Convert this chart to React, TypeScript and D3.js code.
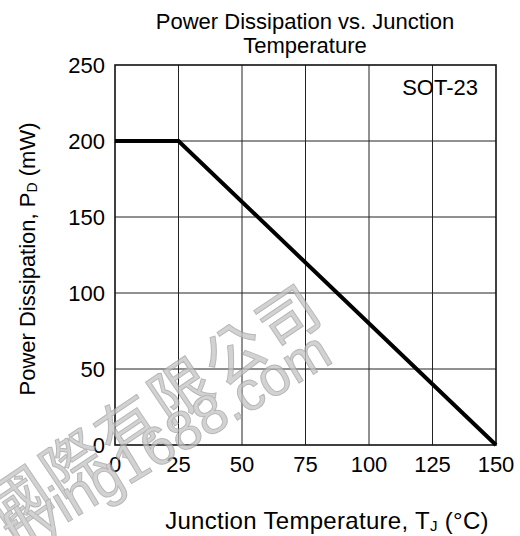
import React from "react";
import * as d3 from "d3";

const tempPoints = [0, 25, 150];
const powerPoints = [200, 200, 0];
const xTicks = [0, 25, 50, 75, 100, 125, 150];
const yTicks = [0, 50, 100, 150, 200, 250];

const W = 520, H = 536;
const m = { left: 115, right: 496, top: 65, bottom: 445 };

export default function App() {
  const x = d3.scaleLinear().domain([0, 150]).range([m.left, m.right]);
  const y = d3.scaleLinear().domain([0, 250]).range([m.bottom, m.top]);
  const line = d3.line<number>().x((_, i) => x(tempPoints[i])).y((d) => y(d));
  const font = "'Liberation Sans', Arial, sans-serif";
  return (
    <svg width={W} height={H} style={{ position: "absolute", left: 0, top: 0 }} fontFamily={font}>
      <rect width={W} height={H} fill="#fff" />
      {xTicks.slice(1, -1).map((t) => (
        <line key={"gx" + t} x1={x(t)} x2={x(t)} y1={m.top} y2={m.bottom} stroke="#222" strokeWidth={1} />
      ))}
      {yTicks.slice(1, -1).map((t) => (
        <line key={"gy" + t} x1={m.left} x2={m.right} y1={y(t)} y2={y(t)} stroke="#222" strokeWidth={1} />
      ))}
      <rect x={m.left} y={m.top} width={m.right - m.left} height={m.bottom - m.top} fill="none" stroke="#111" strokeWidth={1.6} />
      <path d={line(powerPoints) || ""} fill="none" stroke="#000" strokeWidth={4} />
      {xTicks.map((t) => (
        <text key={"tx" + t} x={x(t)} y={m.bottom + 27} textAnchor="middle" fontSize={22}>{t}</text>
      ))}
      {yTicks.map((t) => (
        <text key={"ty" + t} x={m.left - 10} y={y(t) + 8} textAnchor="end" fontSize={22}>{t}</text>
      ))}
      <text x={305} y={29} textAnchor="middle" fontSize={22}>Power Dissipation vs. Junction</text>
      <text x={305} y={53} textAnchor="middle" fontSize={22}>Temperature</text>
      <text x={478} y={95} textAnchor="end" fontSize={22}>SOT-23</text>
      <text x={327} y={529} textAnchor="middle" fontSize={24} letterSpacing={0.3}>
        Junction Temperature, T<tspan fontSize={15} dy={2}>J</tspan><tspan dy={-2}> (°C)</tspan>
      </text>
      <text transform="translate(35,259) rotate(-90)" textAnchor="middle" fontSize={22}>
        Power Dissipation, P<tspan fontSize={14} dy={2}>D</tspan><tspan dy={-2}> (mW)</tspan>
      </text>
      <g fill="#c4c4c4" stroke="#a0a0a0" strokeWidth={1} opacity={0.75}>
        <text transform="translate(6,534) rotate(-34)" fontSize={60} letterSpacing={5}
          fontFamily="'Noto Sans CJK TC', 'Noto Sans CJK SC', sans-serif">國際有限公司</text>
        <text transform="translate(18,552) rotate(-31)" fontSize={55} fontFamily={font}>flying1688.com</text>
      </g>
    </svg>
  );
}
